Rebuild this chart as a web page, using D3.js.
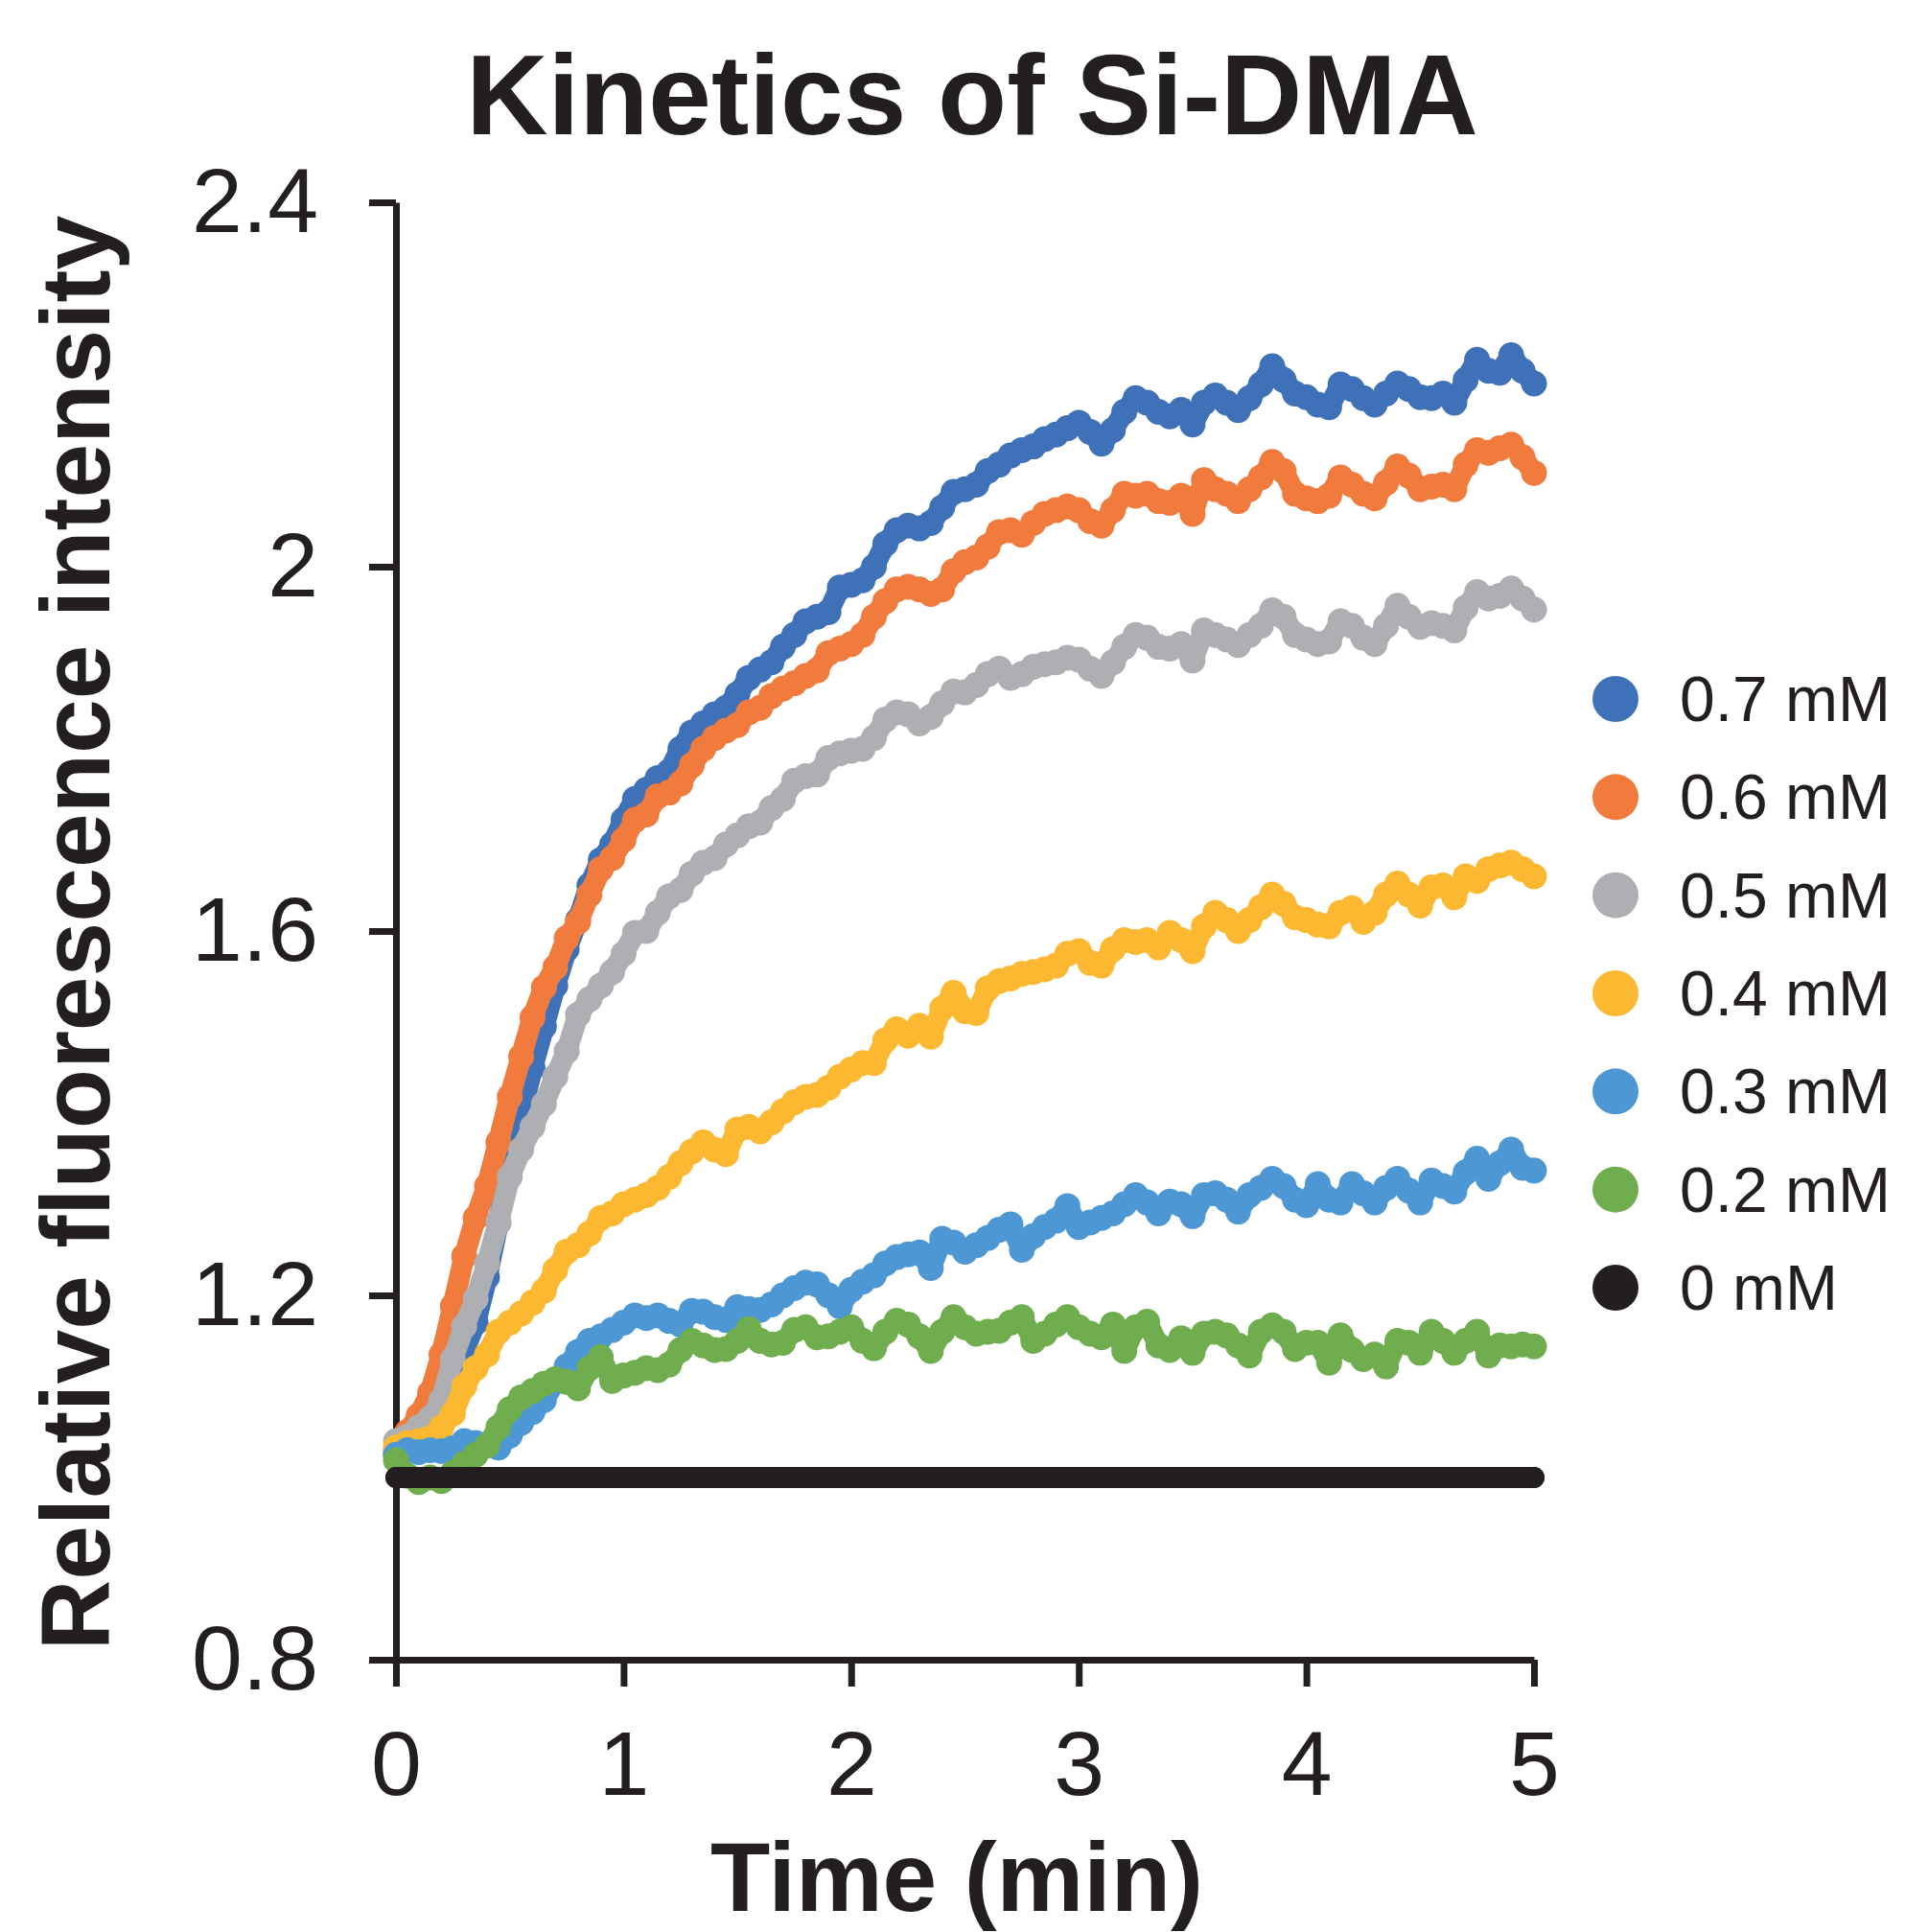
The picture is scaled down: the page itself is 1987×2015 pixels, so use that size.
<!DOCTYPE html>
<html>
<head>
<meta charset="utf-8">
<script src="https://cdn.jsdelivr.net/npm/d3@7"></script>
<style>
  body { margin: 0; background: #ffffff; }
  text { font-family: "Liberation Sans", Arial, Helvetica, sans-serif; fill: #231f20; }
</style>
</head>
<body>
<script>
// series labels and colours, top of legend first (also drawing order)
const labels = ["0.7 mM", "0.6 mM", "0.5 mM", "0.4 mM", "0.3 mM", "0.2 mM", "0 mM"];
const colors = ["#3f71b9", "#f07b3d", "#adafb2", "#fdb831", "#4d98d4", "#6fad4f", "#231f20"];

const xTicks = [0, 1, 2, 3, 4, 5];
const yTicks = [0.8, 1.2, 1.6, 2, 2.4];

// one reading every 3 s (0.05 min), 0 to 5 min
const timeMin = d3.range(101).map(i => i * 0.05);

const conc07 = [1.025,1.035,1.050,1.065,1.085,1.110,1.140,1.170,1.220,1.280,
  1.340,1.400,1.450,1.495,1.540,1.580,1.612,1.650,1.678,1.695,
  1.722,1.745,1.755,1.768,1.775,1.800,1.818,1.828,1.838,1.845,
  1.860,1.878,1.887,1.895,1.912,1.925,1.940,1.945,1.950,1.977,
  1.980,1.985,2.000,2.025,2.040,2.045,2.042,2.048,2.065,2.082,
  2.085,2.090,2.105,2.112,2.122,2.128,2.132,2.140,2.145,2.152,
  2.158,2.148,2.135,2.150,2.170,2.185,2.180,2.170,2.165,2.172,
  2.156,2.180,2.188,2.180,2.172,2.185,2.200,2.220,2.205,2.190,
  2.186,2.178,2.175,2.200,2.195,2.185,2.178,2.190,2.201,2.195,
  2.186,2.185,2.190,2.180,2.205,2.227,2.215,2.213,2.232,2.215,
  2.201];

const conc06 = [1.030,1.050,1.068,1.093,1.135,1.188,1.243,1.285,1.320,1.368,
  1.418,1.462,1.505,1.538,1.560,1.592,1.610,1.640,1.668,1.680,
  1.700,1.722,1.728,1.748,1.752,1.762,1.782,1.800,1.812,1.820,
  1.826,1.840,1.845,1.858,1.866,1.872,1.880,1.886,1.905,1.910,
  1.915,1.925,1.945,1.962,1.975,1.978,1.975,1.970,1.975,1.995,
  2.005,2.010,2.022,2.038,2.040,2.035,2.048,2.058,2.062,2.066,
  2.062,2.050,2.045,2.062,2.080,2.078,2.080,2.072,2.070,2.078,
  2.058,2.095,2.085,2.080,2.072,2.085,2.098,2.115,2.105,2.080,
  2.075,2.072,2.078,2.098,2.090,2.080,2.075,2.092,2.110,2.100,
  2.085,2.088,2.090,2.085,2.112,2.128,2.125,2.130,2.134,2.120,
  2.103];

const conc05 = [1.040,1.045,1.055,1.065,1.085,1.130,1.166,1.196,1.235,1.280,
  1.330,1.360,1.385,1.410,1.440,1.468,1.508,1.525,1.540,1.555,
  1.575,1.598,1.600,1.620,1.638,1.645,1.663,1.675,1.680,1.695,
  1.705,1.715,1.719,1.735,1.745,1.765,1.770,1.772,1.790,1.795,
  1.798,1.800,1.812,1.832,1.840,1.838,1.828,1.835,1.850,1.863,
  1.862,1.870,1.882,1.888,1.878,1.882,1.890,1.893,1.895,1.900,
  1.898,1.888,1.880,1.895,1.912,1.925,1.922,1.912,1.910,1.915,
  1.897,1.930,1.925,1.920,1.914,1.925,1.935,1.952,1.945,1.925,
  1.920,1.915,1.918,1.940,1.935,1.922,1.915,1.935,1.957,1.945,
  1.934,1.938,1.935,1.930,1.955,1.972,1.965,1.968,1.976,1.965,
  1.953];

const conc04 = [1.033,1.038,1.040,1.043,1.055,1.070,1.100,1.120,1.135,1.160,
  1.170,1.180,1.192,1.205,1.228,1.248,1.255,1.268,1.285,1.290,
  1.300,1.305,1.310,1.318,1.330,1.345,1.358,1.368,1.360,1.355,
  1.382,1.385,1.380,1.390,1.402,1.412,1.418,1.420,1.428,1.440,
  1.448,1.455,1.455,1.480,1.492,1.485,1.496,1.484,1.515,1.532,
  1.512,1.510,1.537,1.545,1.548,1.553,1.555,1.558,1.562,1.575,
  1.578,1.565,1.562,1.580,1.590,1.588,1.590,1.582,1.598,1.590,
  1.578,1.605,1.620,1.612,1.600,1.612,1.626,1.640,1.630,1.615,
  1.612,1.607,1.605,1.620,1.625,1.610,1.620,1.640,1.652,1.640,
  1.628,1.648,1.650,1.637,1.660,1.655,1.668,1.672,1.675,1.668,
  1.660];

const conc03 = [1.025,1.030,1.028,1.030,1.029,1.032,1.040,1.038,1.035,1.033,
  1.046,1.060,1.072,1.085,1.105,1.122,1.138,1.150,1.155,1.162,
  1.170,1.178,1.175,1.178,1.172,1.168,1.183,1.182,1.176,1.173,
  1.187,1.185,1.184,1.190,1.200,1.208,1.214,1.212,1.200,1.188,
  1.206,1.215,1.222,1.235,1.242,1.245,1.247,1.230,1.262,1.258,
  1.248,1.255,1.263,1.272,1.278,1.250,1.265,1.275,1.282,1.298,
  1.275,1.280,1.285,1.290,1.300,1.310,1.302,1.290,1.303,1.300,
  1.287,1.310,1.312,1.305,1.292,1.310,1.318,1.328,1.320,1.305,
  1.299,1.322,1.305,1.302,1.322,1.312,1.302,1.318,1.328,1.315,
  1.302,1.326,1.320,1.314,1.335,1.350,1.328,1.345,1.360,1.340,
  1.337];

const conc02 = [1.019,1.002,0.995,1.000,0.996,1.005,1.015,1.025,1.035,1.055,
  1.075,1.088,1.095,1.103,1.108,1.105,1.098,1.120,1.132,1.106,
  1.112,1.115,1.120,1.118,1.124,1.140,1.150,1.145,1.140,1.141,
  1.150,1.163,1.150,1.146,1.148,1.162,1.165,1.154,1.155,1.160,
  1.165,1.150,1.142,1.160,1.172,1.168,1.155,1.139,1.160,1.176,
  1.165,1.158,1.160,1.161,1.170,1.176,1.150,1.158,1.168,1.176,
  1.165,1.158,1.154,1.168,1.139,1.165,1.171,1.145,1.140,1.153,
  1.137,1.158,1.160,1.156,1.145,1.134,1.160,1.167,1.160,1.141,
  1.148,1.148,1.126,1.156,1.140,1.130,1.135,1.122,1.150,1.148,
  1.137,1.160,1.150,1.137,1.150,1.160,1.134,1.145,1.144,1.146,
  1.144];

const conc00 = [1,1,1,1,1,1,1,1,1,1, 1,1,1,1,1,1,1,1,1,1,
  1,1,1,1,1,1,1,1,1,1, 1,1,1,1,1,1,1,1,1,1,
  1,1,1,1,1,1,1,1,1,1, 1,1,1,1,1,1,1,1,1,1,
  1,1,1,1,1,1,1,1,1,1, 1,1,1,1,1,1,1,1,1,1,
  1,1,1,1,1,1,1,1,1,1, 1,1,1,1,1,1,1,1,1,1,
  1];

const series = [conc07, conc06, conc05, conc04, conc03, conc02, conc00];

const width = 1987;
const height = 2015;
const plot = { left: 413, right: 1600, top: 211, bottom: 1731 };

const svg = d3.select('body').append('svg')
  .attr('width', width)
  .attr('height', height);

const x = d3.scaleLinear().domain([0, 5]).range([plot.left, plot.right]);
const y = d3.scaleLinear().domain([0.8, 2.4]).range([plot.bottom, plot.top]);

// axes
const xAxis = svg.append('g')
  .attr('transform', `translate(0, ${plot.bottom})`)
  .call(d3.axisBottom(x).tickValues(xTicks).tickFormat(d => d)
    .tickSize(28).tickSizeOuter(0).tickPadding(46));

const yAxis = svg.append('g')
  .attr('transform', `translate(${plot.left}, 0)`)
  .call(d3.axisLeft(y).tickValues(yTicks).tickFormat(d => d)
    .tickSize(28).tickSizeOuter(0).tickPadding(53));

[xAxis, yAxis].forEach(g => {
  g.attr('color', '#231f20').attr('font-size', null).attr('font-family', null);
  g.selectAll('path, line').attr('stroke-width', 7);
  g.selectAll('text').style('font-size', '95px');
});

// dense dot traces: a thick trace under the dots fills the gaps between readings
const line = d3.line()
  .x((d, i) => x(timeMin[i]))
  .y(d => y(d));

series.forEach((vals, k) => {
  const isBlank = k === 6;
  const g = svg.append('g');
  g.append('path')
    .datum(vals)
    .attr('d', line)
    .attr('fill', 'none')
    .attr('stroke', colors[k])
    .attr('stroke-width', 22)
    .attr('stroke-linejoin', 'round')
    .attr('stroke-linecap', 'round');
  g.selectAll('circle')
    .data(vals)
    .join('circle')
    .attr('cx', (d, i) => x(timeMin[i]))
    .attr('cy', d => y(d))
    .attr('r', isBlank ? 11 : 13.5)
    .attr('fill', colors[k]);
});

// legend
const legendY = d3.scalePoint().domain(labels).range([729, 1343]);
const legend = svg.append('g');
labels.forEach((lab, k) => {
  legend.append('circle')
    .attr('cx', 1685)
    .attr('cy', legendY(lab))
    .attr('r', 24)
    .attr('fill', colors[k]);
  legend.append('text')
    .attr('x', 1752)
    .attr('y', legendY(lab))
    .attr('dy', '0.35em')
    .style('font-size', '66px')
    .text(lab);
});

// titles
svg.append('text')
  .attr('x', 1014)
  .attr('y', 140)
  .attr('text-anchor', 'middle')
  .style('font-size', '118px')
  .style('font-weight', 'bold')
  .text('Kinetics of Si-DMA');

svg.append('text')
  .attr('x', 998)
  .attr('y', 1993)
  .attr('text-anchor', 'middle')
  .style('font-size', '102px')
  .style('font-weight', 'bold')
  .text('Time (min)');

svg.append('text')
  .attr('transform', 'translate(114, 973) rotate(-90)')
  .attr('text-anchor', 'middle')
  .style('font-size', '102px')
  .style('font-weight', 'bold')
  .text('Relative fluorescence intensity');
</script>
</body>
</html>
